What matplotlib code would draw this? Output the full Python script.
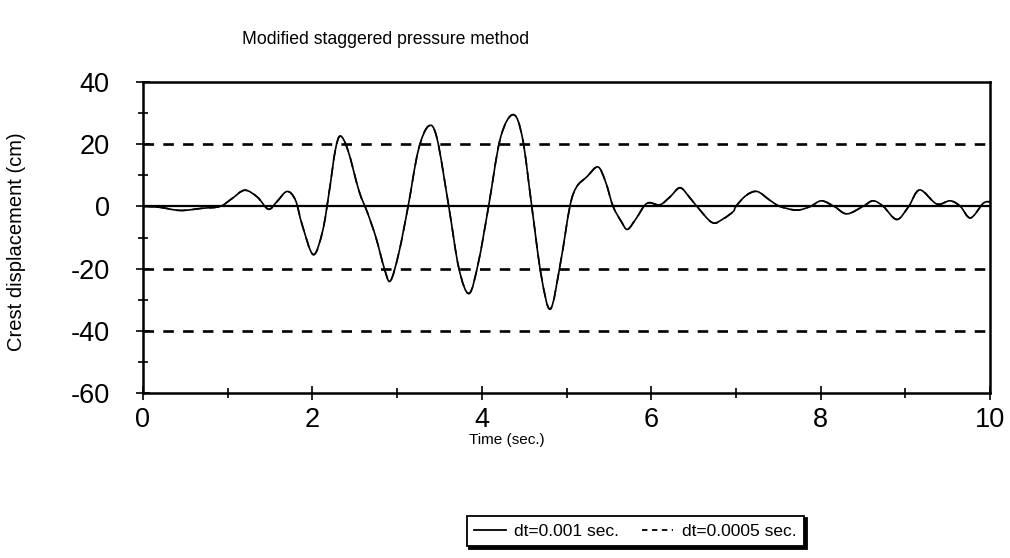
import numpy as np
import matplotlib
matplotlib.use("Agg")
import matplotlib.pyplot as plt
from matplotlib.path import Path
from matplotlib.patches import PathPatch
from matplotlib.lines import Line2D

plt.rcParams['font.family'] = ['Liberation Sans', 'DejaVu Sans']
plt.rcParams['axes.unicode_minus'] = False

# ---- data ----
time_s = [0.0, 0.2, 0.44, 0.7, 0.91, 1.05, 1.2, 1.35, 1.48, 1.58, 1.70, 1.80, 1.88,
          2.01, 2.12, 2.20, 2.27, 2.33, 2.42, 2.55, 2.65, 2.75, 2.85, 2.92, 3.02,
          3.13, 3.25, 3.37, 3.47, 3.61, 3.73, 3.85, 3.96, 4.08, 4.22, 4.37, 4.48,
          4.59, 4.70, 4.81, 4.93, 5.04, 5.12, 5.24, 5.37, 5.46, 5.55, 5.65, 5.72,
          5.82, 5.95, 6.10, 6.22, 6.34, 6.45, 6.54, 6.72, 6.85, 6.97, 7.00, 7.12,
          7.25, 7.40, 7.52, 7.72, 7.88, 8.01, 8.16, 8.31, 8.50, 8.62, 8.74, 8.90,
          9.04, 9.17, 9.37, 9.53, 9.65, 9.77, 9.92, 10.0]
disp_dt001 = [0, -0.3, -1.3, -0.6, 0, 2.5, 5.2, 3, -0.9, 1.5, 4.8, 2, -6,
              -15.5, -8, 5, 18, 22.6, 18, 5, -2, -10, -20, -24, -15,
              0, 18, 25.8, 22, 0, -20, -28, -18, 0, 22, 29.5, 22,
              0, -22, -33, -18, 0, 6.3, 9.5, 12.7, 8, 0, -5, -7.4,
              -4, 1, 0.5, 3, 6, 3, 0, -5.2, -4, -1.6, 0, 3.5,
              4.8, 2, 0, -1.2, 0, 1.8, 0, -2.4, 0, 1.8, 0, -4.2,
              0, 5.3, 0.8, 1.8, 0, -3.7, 1, 1.5]
disp_dt0005 = list(disp_dt001)

series_labels = ['dt=0.001 sec.', 'dt=0.0005 sec.']
x_ticks = [0, 2, 4, 6, 8, 10]
y_ticks = [-60, -40, -20, 0, 20, 40]
grid_levels = [20, -20, -40]


def smooth_path(xs, ys):
    """Catmull-Rom curve through the read points, as cubic Bezier segments."""
    p = np.column_stack([xs, ys]).astype(float)
    verts = [p[0]]
    codes = [Path.MOVETO]
    n = len(p)
    for i in range(n - 1):
        p0 = p[i - 1] if i > 0 else p[i]
        p1 = p[i]
        p2 = p[i + 1]
        p3 = p[i + 2] if i + 2 < n else p[i + 1]
        c1 = p1 + (p2 - p0) / 6.0
        c2 = p2 - (p3 - p1) / 6.0
        verts += [c1, c2, p2]
        codes += [Path.CURVE4] * 3
    return Path(verts, codes)


fig = plt.figure(figsize=(10.10, 5.58), dpi=100)
ax = fig.add_axes([143 / 1010, 1 - 393 / 558, (990 - 143) / 1010, (393 - 82) / 558])

for lvl in grid_levels:
    ax.axhline(lvl, color='black', lw=1.9, ls=(0, (4, 3.5)), zorder=1)
ax.axhline(0, color='black', lw=1.6, zorder=2)

ax.add_patch(PathPatch(smooth_path(time_s, disp_dt001), fill=False,
                       edgecolor='black', lw=1.2, zorder=3))
ax.add_patch(PathPatch(smooth_path(time_s, disp_dt0005), fill=False,
                       edgecolor='black', lw=1.2, ls=(0, (6, 4)), zorder=3))

ax.set_xlim(0, 10)
ax.set_ylim(-60, 40)
ax.set_xticks(x_ticks)
ax.set_yticks(y_ticks)
ax.set_xticks(np.arange(1, 10, 2), minor=True)
ax.set_yticks(np.arange(-50, 40, 20), minor=True)
ax.tick_params(axis='both', which='major', direction='inout', length=10, width=1.2,
               labelsize=19.5, colors='black')
ax.tick_params(axis='both', which='minor', direction='inout', length=7, width=1.2)
ax.tick_params(axis='x', pad=5)
ax.tick_params(axis='y', pad=19)
for s in ax.spines.values():
    s.set_linewidth(1.8)
    s.set_color('black')

fig.text(242 / 1010, 1 - 40 / 558, 'Modified staggered pressure method',
         fontsize=12.7, ha='left', va='center')
fig.text(17 / 1010, 1 - 242 / 558, 'Crest displacement (cm)', rotation=90,
         fontsize=14.5, ha='center', va='center')
fig.text(507 / 1010, 1 - 440 / 558, 'Time (sec.)', fontsize=11,
         ha='center', va='center')

handles = [Line2D([], [], color='black', lw=1.3),
           Line2D([], [], color='black', lw=1.3, ls=(0, (3, 2.5)))]
leg = fig.legend(handles, series_labels, ncol=2, loc='center',
                 bbox_to_anchor=((463 + 808) / 2 / 1010, 1 - 531 / 558),
                 fontsize=12.5, frameon=True, fancybox=False,
                 shadow=dict(color='black', alpha=1),
                 handlelength=1.8, columnspacing=1.3, handletextpad=0.5,
                 borderpad=0.45)
leg.get_frame().set_edgecolor('black')
leg.get_frame().set_linewidth(1.3)

fig.savefig('out.png', dpi=100)
